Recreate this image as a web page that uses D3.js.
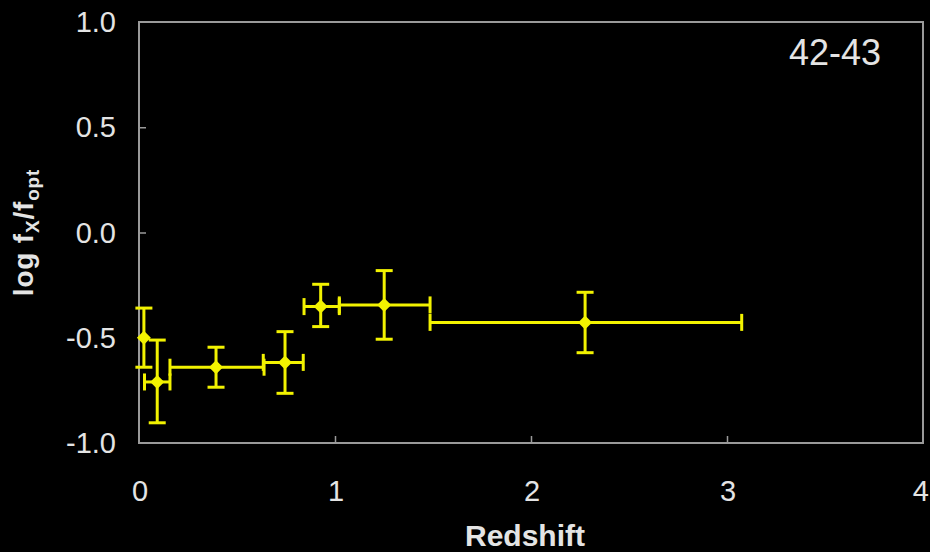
<!DOCTYPE html>
<html>
<head>
<meta charset="utf-8">
<script src="https://cdn.jsdelivr.net/npm/d3@7"></script>
<style>
  html, body { margin: 0; padding: 0; background: #000; }
  svg { display: block; }
</style>
</head>
<body>
<svg id="chart" width="930" height="552"></svg>
<script>
// Mean log fX/fopt per redshift bin, luminosity class 42-43
const redshift = [0.025, 0.093, 0.393, 0.745, 0.927, 1.251, 2.276];
const zLow     = [0.025, 0.028, 0.158, 0.634, 0.842, 1.022, 1.485];
const zHigh    = [0.025, 0.158, 0.638, 0.838, 1.022, 1.485, 3.075];
const logRatio = [-0.50, -0.71, -0.64, -0.617, -0.352, -0.344, -0.427];
const ratioLow = [-0.64, -0.904, -0.735, -0.764, -0.447, -0.507, -0.571];
const ratioHigh= [-0.359, -0.511, -0.545, -0.471, -0.246, -0.181, -0.284];

const xTicks = [0, 1, 2, 3, 4];
const yTicks = [1.0, 0.5, 0.0, -0.5, -1.0];
const panelLabel = "42-43";

const svg = d3.select("#chart");
const W = 930;
const plotLeft = 139, plotRight = 923, plotTop = 22, plotBottom = 443;

const x = d3.scaleLinear().domain([0, 4]).range([plotLeft, plotRight]);
const y = d3.scaleLinear().domain([-1, 1]).range([plotBottom, plotTop]);

const axisColor = "#9a9a9a";
const textColor = "#e4e4e4";
const markColor = "#f2f200";
const font = "'Liberation Sans', Arial, sans-serif";

// Frame
svg.append("rect")
  .attr("x", plotLeft).attr("y", plotTop)
  .attr("width", plotRight - plotLeft).attr("height", plotBottom - plotTop)
  .attr("fill", "none").attr("stroke", axisColor).attr("stroke-width", 2);

// Bottom axis: inward ticks, labels drawn separately below
const xAxis = d3.axisBottom(x).tickValues(xTicks).tickSize(-7).tickFormat("");
const gx = svg.append("g").attr("transform", `translate(0,${plotBottom})`).call(xAxis);
gx.select(".domain").remove();
gx.selectAll(".tick line").attr("stroke", axisColor).attr("stroke-width", 1.5);
gx.selectAll(".tick").filter(d => d === 0 || d === 4).remove();

// Tick labels; the last one is kept inside the canvas edge
svg.append("g").selectAll("text").data(xTicks).join("text")
  .attr("fill", textColor)
  .style("font-family", font).style("font-size", "29px")
  .text(d => d)
  .each(function (d) {
    const t = d3.select(this);
    const w = this.getComputedTextLength();
    const cx = Math.min(x(d) + 1, W - 1 - w / 2);
    t.attr("x", cx).attr("y", 501).attr("text-anchor", "middle");
  });

// Left axis
const yAxis = d3.axisLeft(y).tickValues(yTicks).tickSize(-7).tickFormat("");
const gy = svg.append("g").attr("transform", `translate(${plotLeft},0)`).call(yAxis);
gy.select(".domain").remove();
gy.selectAll(".tick line").attr("stroke", axisColor).attr("stroke-width", 1.5);
gy.selectAll(".tick").filter(d => d === 1 || d === -1).remove();

svg.append("g").selectAll("text").data(yTicks).join("text")
  .attr("x", 116).attr("y", d => y(d) + 10)
  .attr("text-anchor", "end")
  .attr("fill", textColor)
  .style("font-family", font).style("font-size", "29px")
  .text(d => d.toFixed(1));

// Axis titles
svg.append("text")
  .attr("x", 525).attr("y", 546)
  .attr("text-anchor", "middle")
  .attr("fill", textColor)
  .style("font-family", font).style("font-size", "30px").style("font-weight", "bold")
  .text("Redshift");

const yt = svg.append("text")
  .attr("transform", `translate(33,${(plotTop + plotBottom) / 2}) rotate(-90)`)
  .attr("text-anchor", "middle")
  .attr("fill", textColor)
  .style("font-family", font).style("font-size", "28px").style("font-weight", "bold")
  .style("letter-spacing", "0.8px");
yt.append("tspan").text("log f");
yt.append("tspan").attr("dy", 6).style("font-size", "19px").text("X");
yt.append("tspan").attr("dy", -6).text("/f");
yt.append("tspan").attr("dy", 6).style("font-size", "19px").text("opt");

svg.append("text")
  .attr("x", 835).attr("y", 65)
  .attr("text-anchor", "middle")
  .attr("fill", textColor)
  .style("font-family", font).style("font-size", "36px")
  .text(panelLabel);

// Error bars and markers
const pts = redshift.map((z, i) => ({
  z, zl: zLow[i], zh: zHigh[i], v: logRatio[i], vl: ratioLow[i], vh: ratioHigh[i]
}));
const cap = 8.5;
const g = svg.append("g").attr("stroke", markColor).attr("stroke-width", 3).attr("fill", "none");

pts.forEach(p => {
  // horizontal bar
  if (p.zh > p.zl) {
    g.append("line").attr("x1", x(p.zl)).attr("x2", x(p.zh)).attr("y1", y(p.v)).attr("y2", y(p.v));
    g.append("line").attr("x1", x(p.zl)).attr("x2", x(p.zl)).attr("y1", y(p.v) - cap).attr("y2", y(p.v) + cap);
    g.append("line").attr("x1", x(p.zh)).attr("x2", x(p.zh)).attr("y1", y(p.v) - cap).attr("y2", y(p.v) + cap);
  }
  // vertical bar
  g.append("line").attr("x1", x(p.z)).attr("x2", x(p.z)).attr("y1", y(p.vl)).attr("y2", y(p.vh));
  g.append("line").attr("x1", x(p.z) - cap).attr("x2", x(p.z) + cap).attr("y1", y(p.vl)).attr("y2", y(p.vl));
  g.append("line").attr("x1", x(p.z) - cap).attr("x2", x(p.z) + cap).attr("y1", y(p.vh)).attr("y2", y(p.vh));
});

svg.append("g").selectAll("path").data(pts).join("path")
  .attr("d", d3.symbol(d3.symbolDiamond2, 125))
  .attr("transform", d => `translate(${x(d.z)},${y(d.v)})`)
  .attr("fill", markColor);
</script>
</body>
</html>
